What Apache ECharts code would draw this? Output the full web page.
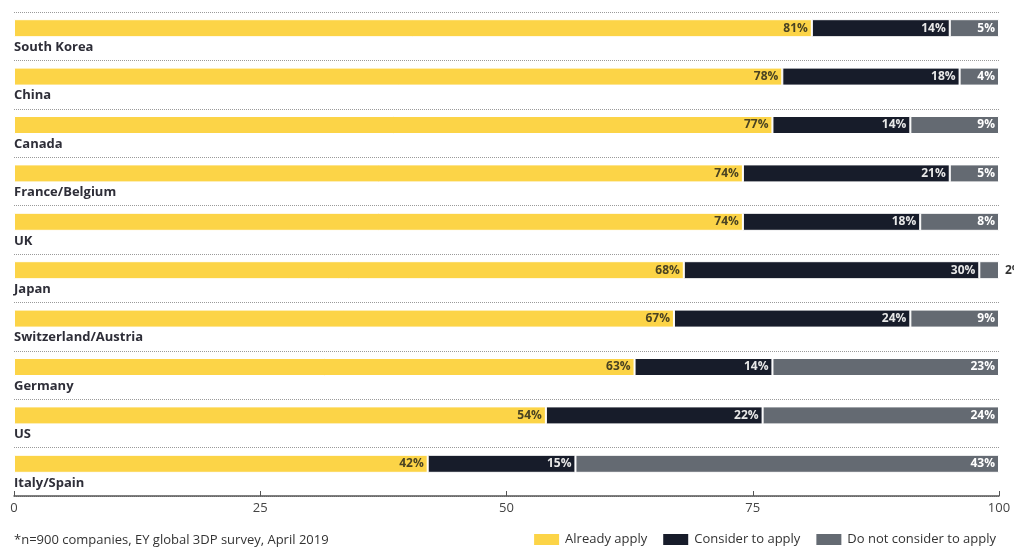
<!DOCTYPE html>
<html><head><meta charset="utf-8">
<script src="https://cdn.jsdelivr.net/npm/echarts@6/dist/echarts.min.js"></script>
<style>html,body{margin:0;padding:0;background:#fff}#c{width:1014px;height:548px}</style>
</head><body><div id="c"></div>
<script>
const categories = ['South Korea','China','Canada','France/Belgium','UK','Japan','Switzerland/Austria','Germany','US','Italy/Spain'];
const alreadyApply = [81,78,77,74,74,68,67,63,54,42];
const considerApply = [14,18,14,21,18,30,24,14,22,15];
const notConsider = [5,4,9,5,8,2,9,23,24,43];
const seriesNames = ['Already apply','Consider to apply','Do not consider to apply'];
const footnote = '*n=900 companies, EY global 3DP survey, April 2019';

const colors = ['#FCD447','#171C2A','#646A72'];
const labelColors = ['#4a4322','#e8e8e8','#ffffff'];
const font = '"Open Sans", "Noto Sans", sans-serif';

function mkSeries(name, vals, i) {
  return {
    name: name, type: 'bar', stack: 's', barWidth: 18,
    xAxisIndex: 0, yAxisIndex: 0,
    itemStyle: {color: colors[i], borderColor: '#fff', borderWidth: 1},
    label: {show: true, position: 'insideRight', formatter: '{c}%', color: labelColors[i],
      fontFamily: font, fontWeight: 'bold', fontSize: 12, distance: 4},
    data: vals.map(v => v < 3 ? {value: v, label: {position: 'right', color: '#333', distance: 6}} : v)
  };
}

const chart = echarts.init(document.getElementById('c'));
chart.setOption({
  animation: false,
  textStyle: {fontFamily: font},
  grid: [
    {left: 14, right: 15, top: 4, bottom: 60},
    {left: 14, right: 15, top: 12, bottom: 52}
  ],
  xAxis: [
    {gridIndex: 0, type: 'value', min: 0, max: 100, show: false},
    {gridIndex: 1, type: 'value', min: 0, max: 100, interval: 25,
      axisLine: {show: true, lineStyle: {color: '#555', width: 1.5}},
      axisTick: {show: true, inside: true, length: 5, lineStyle: {color: '#555'}},
      splitLine: {show: false},
      axisLabel: {color: '#444', fontSize: 13, margin: 6, fontFamily: font}}
  ],
  yAxis: [
    {gridIndex: 0, type: 'category', data: categories, inverse: true, show: false},
    {gridIndex: 1, type: 'category', data: categories, inverse: true,
      axisLine: {show: false}, axisTick: {show: false},
      splitLine: {show: true, interval: 0, lineStyle: {type: 'dotted', color: '#9a9a9a', width: 1}},
      axisLabel: {inside: true, align: 'left', margin: 0, color: '#2e2e38', fontSize: 13,
        fontWeight: 'bold', fontFamily: font, verticalAlign: 'top', lineHeight: 22}}
  ],
  legend: {
    bottom: 1, right: 18, padding: 0, itemWidth: 27, itemHeight: 13, itemGap: 14,
    icon: 'rect',
    textStyle: {color: '#333', fontSize: 13, fontFamily: font},
    data: seriesNames
  },
  graphic: [{type: 'text', left: 14, bottom: 1,
    style: {text: footnote, fill: '#333', font: '13px ' + font}}],
  series: [
    mkSeries(seriesNames[0], alreadyApply, 0),
    mkSeries(seriesNames[1], considerApply, 1),
    mkSeries(seriesNames[2], notConsider, 2)
  ]
});
</script></body></html>
